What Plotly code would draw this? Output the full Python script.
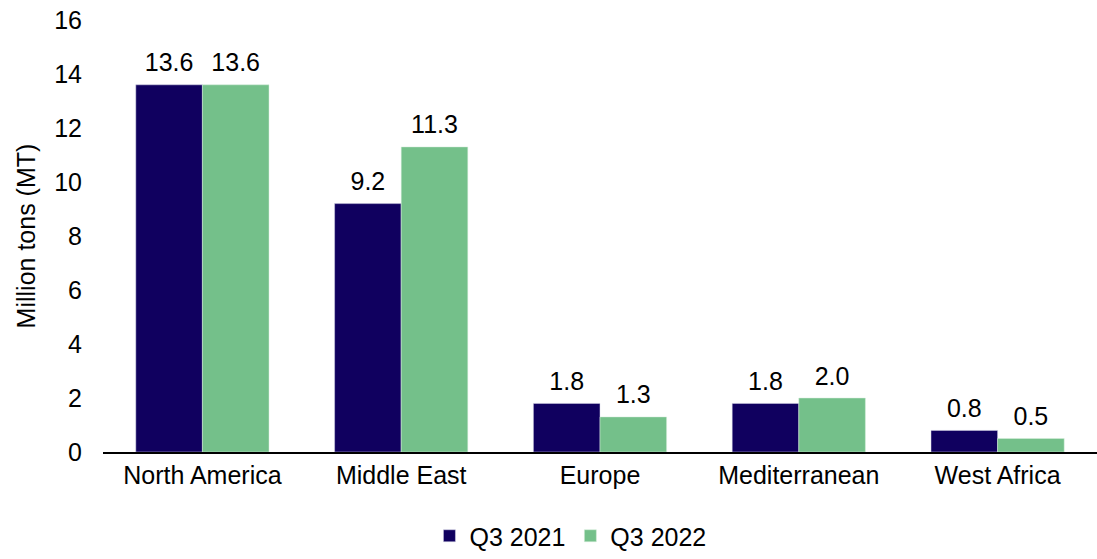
import plotly.graph_objects as go

categories = ["North America", "Middle East", "Europe", "Mediterranean", "West Africa"]
q3_2021 = [13.6, 9.2, 1.8, 1.8, 0.8]
q3_2022 = [13.6, 11.3, 1.3, 2.0, 0.5]
y_ticks = [0, 2, 4, 6, 8, 10, 12, 14, 16]

font_family = "Liberation Sans, Arial, sans-serif"
series = [("Q3 2021", q3_2021, "#10005F", "#d8d8e8"),
          ("Q3 2022", q3_2022, "#74C08A", "#d8eedd")]

fig = go.Figure()
for i, (name, vals, color, edge) in enumerate(series):
    fig.add_trace(go.Bar(
        x=categories, y=vals, name=name, offsetgroup=str(i),
        marker=dict(color=color, line=dict(color=edge, width=0.5)),
    ))
for i, (name, vals, color, edge) in enumerate(series):
    fig.add_trace(go.Scatter(
        x=categories, y=vals, mode="markers+text", offsetgroup=str(i),
        text=[f"{v:.1f}" for v in vals], textposition="top center",
        marker=dict(size=10, opacity=0), showlegend=False, hoverinfo="skip",
        textfont=dict(size=25, color="#000000"), cliponaxis=False,
    ))

fig.update_layout(
    width=1097, height=559,
    margin=dict(l=103, r=0, t=20, b=107),
    paper_bgcolor="white", plot_bgcolor="white",
    font=dict(family=font_family, size=25, color="#000000"),
    barmode="group", bargap=0.33, bargroupgap=0,
    scattermode="group", scattergap=0.33,
    showlegend=True,
    legend=dict(orientation="h", xref="container", yref="container",
                x=0.52, xanchor="center", y=0, yanchor="bottom",
                font=dict(size=25), itemwidth=30, traceorder="normal",
                tracegroupgap=0),
    xaxis=dict(showline=True, linecolor="#000000", linewidth=2, ticks="",
               tickfont=dict(size=25), showgrid=False, automargin=False),
    yaxis=dict(range=[0, 16], tickvals=y_ticks, showgrid=False, showline=False,
               zeroline=False, tickfont=dict(size=25), ticks="",
               ticklabelstandoff=20, automargin=False,
               title=dict(text="Million tons (MT)", font=dict(size=25), standoff=11)),
)

fig.write_html("out.html")
